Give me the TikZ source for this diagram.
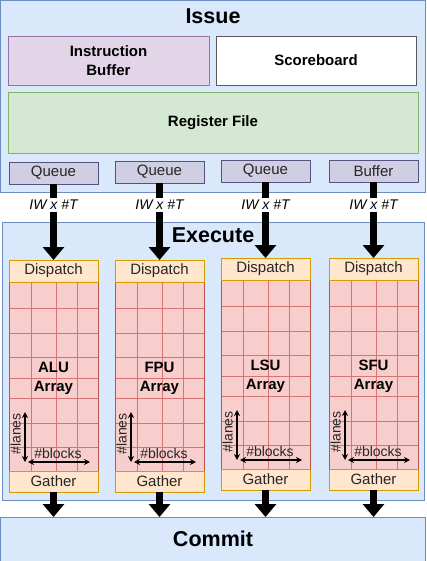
\documentclass[tikz,border=0pt]{standalone}
\usepackage{fontspec}
\setmainfont{Liberation Sans}
\usetikzlibrary{arrows.meta}
\definecolor{bluefill}{HTML}{DAE8FC}
\definecolor{blueline}{HTML}{6C8EBF}
\definecolor{purfill}{HTML}{E1D5E7}
\definecolor{purline}{HTML}{9673A6}
\definecolor{grnfill}{HTML}{D5E8D4}
\definecolor{grnline}{HTML}{82B366}
\definecolor{qfill}{HTML}{D0CEE2}
\definecolor{qline}{HTML}{56517E}
\definecolor{orfill}{HTML}{FFE6CC}
\definecolor{orline}{HTML}{D79B00}
\definecolor{redfill}{HTML}{F8CECC}
\definecolor{redline}{HTML}{B85450}
\definecolor{gridred}{HTML}{D47474}
\begin{document}
\begin{tikzpicture}[x=1pt,y=-1pt,
  box/.style={draw, inner sep=0pt, outer sep=0pt, anchor=north west, align=center, line width=0.8pt},
  bigtitle/.style={font=\fontsize{21.5}{24}\selectfont\bfseries},
  boldtxt/.style={font=\fontsize{15}{19}\selectfont\bfseries, align=center},
  regtxt/.style={font=\fontsize{15}{18}\selectfont, text=black!85},
  qbox/.style={box, fill=qfill, draw=qline, regtxt, minimum width=89pt, minimum height=22pt},
  obox/.style={box, fill=orfill, draw=orline, regtxt, minimum width=89pt, minimum height=22pt},
  rbox/.style={box, fill=redfill, draw=redline, minimum width=89pt, minimum height=189pt},
  gridline/.style={draw=gridred, line width=0.7pt},
  bigarr/.style={draw=black, line width=6.5pt, -{Triangle[width=21pt,length=13pt]}},
  smallarr/.style={draw=black, line width=1.2pt, {Stealth[length=6pt,width=6pt]}-{Stealth[length=6pt,width=6pt]}},
  iwlabel/.style={fill=white, inner sep=2pt, font=\fontsize{14}{16}\selectfont\itshape},
  dimlabel/.style={inner sep=0pt, font=\fontsize{14}{16}\selectfont, text=black!85}
]
\useasboundingbox (0,0) rectangle (426,561);

% stage boxes
\node[box, fill=bluefill, draw=blueline, minimum width=424.5pt, minimum height=191.5pt] (issue) at (0.5,0.5) {};
\node[box, fill=bluefill, draw=blueline, minimum width=422pt, minimum height=278pt] (execute) at (2,222) {};
\node[box, fill=bluefill, draw=blueline, minimum width=424.5pt, minimum height=60pt] (commit) at (0.5,517) {};

\node[bigtitle] (issuet) at (213,16) {Issue};
\node[bigtitle] (executet) at (213,235) {Execute};
\node[bigtitle] (committ) at (213,539) {Commit};

% issue internals
\node[box, boldtxt, fill=purfill, draw=purline, minimum width=201pt, minimum height=49pt] (ibuf) at (8,36) {Instruction\\Buffer};
\node[box, boldtxt, fill=white, draw=black!65, minimum width=200pt, minimum height=49pt] (score) at (216,36) {Scoreboard};
\node[box, boldtxt, fill=grnfill, draw=grnline, minimum width=410pt, minimum height=61pt] (regfile) at (8,92) {Register File};

% columns
\foreach \i/\L/\Q/\T/\qn/\un in {1/9/162/260/Queue/ALU, 2/115/161/260/Queue/FPU, 3/221/160/258/Queue/LSU, 4/329/160/258/Buffer/SFU} {
  \node[qbox] (q\i) at (\L,\Q) {\qn};
  \node[rbox] (a\i) at (\L,\T+22) {};
  \foreach \c in {22,47,68}
    \draw[gridline] ([xshift=\c pt]a\i.north west) -- ([xshift=\c pt]a\i.south west);
  \foreach \r in {26,51,75,96,116,141,165}
    \draw[gridline] ([yshift=-\r pt]a\i.north west) -- ([yshift=-\r pt]a\i.north east);
  \draw[draw=redline, line width=0.8pt] (a\i.north west) rectangle (a\i.south east);
  \node[obox] (d\i) at (\L,\T) {Dispatch};
  \node[obox, minimum height=21pt] (g\i) at (\L,\T+211) {Gather};
  \node[boldtxt] (t\i) at (\L+44.5,\T+118) {\un\\Array};
  % lanes / blocks
  \coordinate (va\i) at (\L+16,\T+152);
  \coordinate (vb\i) at (\L+16,\T+202);
  \draw[smallarr] (va\i) -- (vb\i);
  \coordinate (ha\i) at (\L+19,\T+202);
  \coordinate (hb\i) at (\L+81,\T+202);
  \draw[smallarr] (ha\i) -- (hb\i);
  \node[dimlabel, rotate=90] (ln\i) at (\L+6.5,\T+174) {\#lanes};
  \node[dimlabel] (bl\i) at (\L+49,\T+193) {\#blocks};
  % big arrows
  \draw[bigarr] (q\i.south) -- (d\i.north);
  \node[iwlabel] (iw\i) at (\L+44.5,205) {IW x \#T};
  \draw[bigarr] (g\i.south) -- (g\i.south |- commit.north);
}
\end{tikzpicture}
\end{document}
